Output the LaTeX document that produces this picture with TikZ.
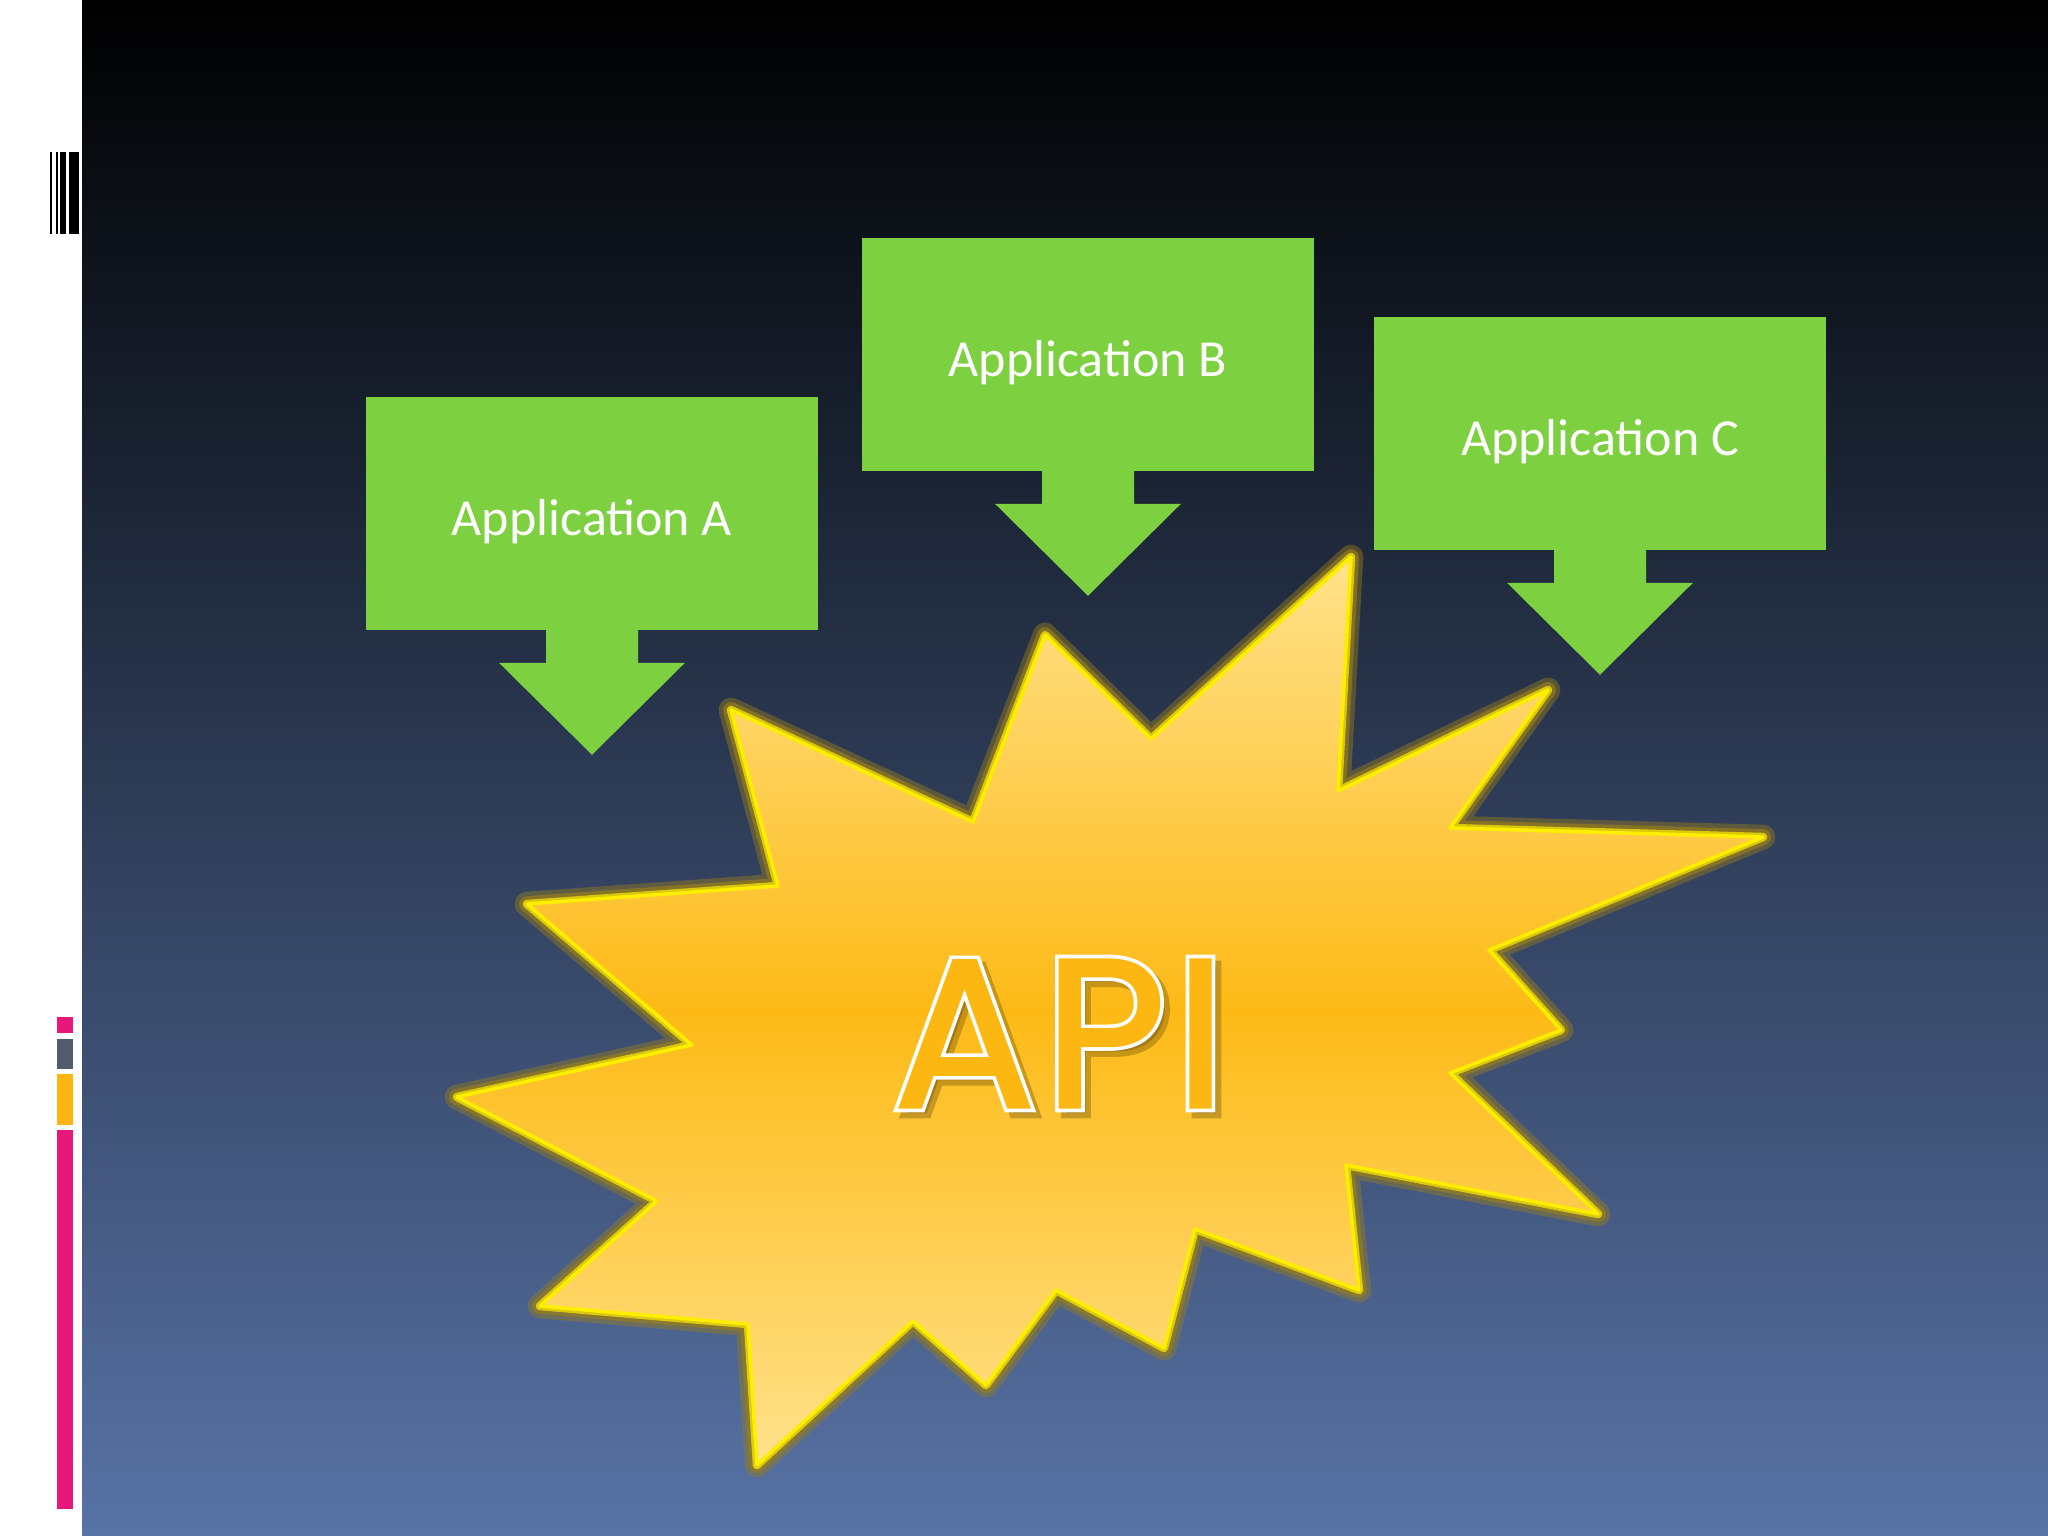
\documentclass[tikz,border=0pt]{standalone}
\usepackage{fontspec}
\newfontfamily\labelfont{Carlito}
\newfontfamily\apifont[FakeBold=1.5,LetterSpace=4]{Poppins}
\newfontfamily\apiedgefont[FakeBold=5,LetterSpace=4]{Poppins}
\usetikzlibrary{calc,positioning}

\definecolor{appgreen}{RGB}{125,208,63}
\definecolor{bgbottom}{RGB}{88,115,166}
\definecolor{burstlight}{RGB}{255,226,140}
\definecolor{burstmid}{RGB}{253,186,22}
\definecolor{glowyellow}{RGB}{255,238,0}
\definecolor{glowolive}{RGB}{150,125,30}
\definecolor{barpink}{RGB}{232,23,122}
\definecolor{bargray}{RGB}{80,91,110}
\definecolor{barorange}{RGB}{253,181,20}
\definecolor{apiorange}{RGB}{252,183,18}

\begin{document}
\begin{tikzpicture}[x=0.01cm,y=-0.01cm,
    appbox/.style={rectangle,fill=appgreen,inner sep=0pt,minimum width=4.52cm,minimum height=2.33cm},
    applabel/.style={anchor=base,inner sep=0pt,text=white,font=\labelfont\fontsize{14.8}{18}\selectfont},
    apitext/.style={anchor=base,inner sep=0pt,font=\apifont\fontsize{60}{70}\selectfont}]

    \useasboundingbox (0,0) rectangle (2048,1536);

    % Slide background
    \fill[white] (0,0) rectangle (2048,1536);
    \shade[top color=black,bottom color=bgbottom] (82,0) rectangle (2048,1536);

    % Left margin decoration
    \foreach \l/\r in {50/51.5,55.7/58,60/66.3,69.3/79.3}
        \fill[black] (\l,152) rectangle (\r,234);
    \fill[barpink] (57,1017) rectangle (73,1033);
    \fill[bargray] (57,1039) rectangle (73,1069);
    \fill[barorange] (57,1074) rectangle (73,1125);
    \fill[barpink] (57,1130) rectangle (73,1509);

    % Define applications
    \node[appbox] (appA) at (592,513.5) {};
    \node[appbox] (appB) at (1088,354.5) {};
    \node[appbox] (appC) at (1600,433.5) {};
    \node[applabel] (labA) at ($(appA.center)+(0,21.5)$) {Application A};
    \node[applabel] (labB) at ($(appB.center)+(0,21.5)$) {Application B};
    \node[applabel] (labC) at ($(appC.center)+(0,21.5)$) {Application C};

    % Draw arrows
    \foreach \b in {appA,appB,appC}
        \fill[appgreen] ($(\b.south)+(-46,-1)$) -- ++(0,33) -- ++(-47,0)
            -- ($(\b.south)+(0,124)$) -- ++(93,-92) -- ++(-47,0) -- ++(0,-33) -- cycle;

    % Starburst
    \shadedraw[line join=round,
        preaction={draw=glowolive,opacity=0.45,line width=7pt,line join=round},
        preaction={draw=glowolive,opacity=0.7,line width=4.5pt,line join=round},
        preaction={draw=glowyellow,opacity=0.7,line width=2.4pt,line join=round},
        top color=burstlight,bottom color=burstlight,middle color=burstmid,
        draw=glowyellow,line width=1pt]
        (1351,557) -- (1338,791) -- (1548,690) -- (1450,828) -- (1763,837)
        -- (1489,950) -- (1561,1030) -- (1450,1073) -- (1598,1214) -- (1346,1165)
        -- (1359,1290) -- (1195,1229) -- (1164,1348) -- (1056,1290) -- (986,1385)
        -- (913,1321) -- (757,1465) -- (748,1324) -- (540,1306) -- (657,1201)
        -- (457,1097) -- (692,1045) -- (527,904) -- (778,886) -- (731,710)
        -- (973,822) -- (1045,635) -- (1151,739) -- cycle;

    % API text
    \node[apitext,font=\apiedgefont\fontsize{60}{70}\selectfont,text=black!60!burstmid,opacity=0.35] (apishadow) at (1066,1113) {API};
    \node[apitext,font=\apiedgefont\fontsize{60}{70}\selectfont,text=white] (apiedge) at (1060,1107) {API};
    \node[apitext,text=apiorange] (api) at (1060,1107) {API};

\end{tikzpicture}
\end{document}
